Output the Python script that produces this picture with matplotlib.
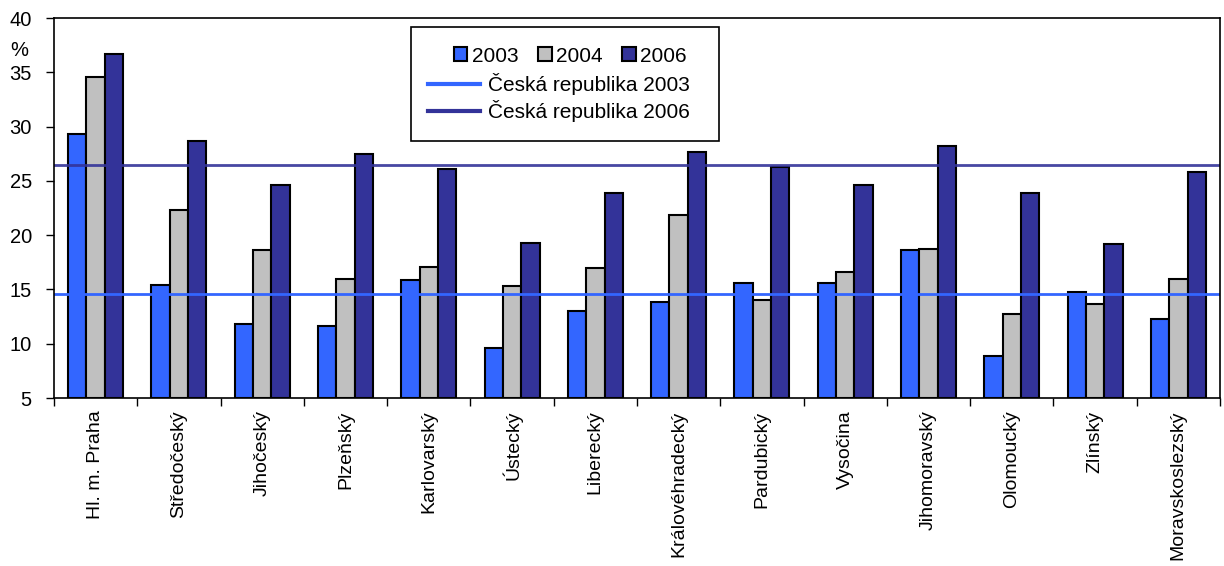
import matplotlib.pyplot as plt
from matplotlib.patches import Rectangle, Patch
from matplotlib.lines import Line2D
import numpy as np

plt.rcParams['font.family'] = ['Liberation Sans', 'DejaVu Sans']

regions = ["Hl. m. Praha", "Středočeský", "Jihočeský", "Plzeňský", "Karlovarský",
           "Ústecký", "Liberecký", "Královéhradecký", "Pardubický", "Vysočina",
           "Jihomoravský", "Olomoucký", "Zlínský", "Moravskoslezský"]
v2003 = [29.3, 15.4, 11.8, 11.6, 15.9, 9.6, 13.0, 13.8, 15.6, 15.6, 18.6, 8.9, 14.8, 12.3]
v2004 = [34.6, 22.3, 18.6, 16.0, 17.1, 15.3, 17.0, 21.9, 14.0, 16.6, 18.7, 12.7, 13.7, 16.0]
v2006 = [36.7, 28.7, 24.6, 27.5, 26.1, 19.3, 23.9, 27.7, 26.3, 24.6, 28.2, 23.9, 19.2, 25.8]
cr2003 = 14.6
cr2006 = 26.5

c03 = '#3366FF'
c04 = '#C0C0C0'
c06 = '#333399'

fig = plt.figure(figsize=(12.24, 5.66), dpi=100)
ax = fig.add_axes([54 / 1224, 1 - 398 / 566, 1166 / 1224, 380 / 566])

x = np.arange(len(regions))
w = 0.22
ax.bar(x - w, np.array(v2003) - 5, w, bottom=5, color=c03, edgecolor='black', linewidth=1.5)
ax.bar(x, np.array(v2004) - 5, w, bottom=5, color=c04, edgecolor='black', linewidth=1.5)
ax.bar(x + w, np.array(v2006) - 5, w, bottom=5, color=c06, edgecolor='black', linewidth=1.5)

ax.axhline(cr2003, color=c03, linewidth=2)
ax.axhline(cr2006, color=c06, linewidth=2, alpha=0.9)

ax.set_xlim(-0.5, len(regions) - 0.5)
ax.set_ylim(5, 40)
ax.set_yticks(range(5, 41, 5))
ax.set_xticks(x)
ax.set_xticklabels(regions, rotation=90, fontsize=14)
ax.set_xticks(np.arange(-0.5, len(regions), 1), minor=True)
ax.tick_params(axis='x', which='major', length=0, pad=9)
ax.tick_params(axis='x', which='minor', length=6, direction='out', width=1)
ax.tick_params(axis='y', labelsize=14.5, length=6, width=1, pad=10)
for s in ax.spines.values():
    s.set_linewidth(1.2)

fig.text(10 / 1224, 1 - 51 / 566, '%', fontsize=14.5, va='center', ha='left')

# legend frame + two borderless legends
ax.add_patch(Rectangle((0.306, 0.676), 0.264, 0.300, transform=ax.transAxes,
                       facecolor='white', edgecolor='black', linewidth=1.2, zorder=5))
bar_handles = [Patch(facecolor=c, edgecolor='black', linewidth=1.5) for c in (c03, c04, c06)]
leg1 = ax.legend(bar_handles, ['2003', '2004', '2006'], ncol=3, frameon=False,
                 loc='center left', bbox_to_anchor=(0.334, 0.900), fontsize=15, borderpad=0,
                 handlelength=0.65, handleheight=0.65, handletextpad=0.2, columnspacing=0.95)
leg1.set_zorder(6)
ax.add_artist(leg1)
line_handles = [Line2D([0], [0], color=c03, linewidth=3), Line2D([0], [0], color=c06, linewidth=3)]
leg2 = ax.legend(line_handles, ['Česká republika 2003', 'Česká republika 2006'], frameon=False,
                 loc='center left', bbox_to_anchor=(0.312, 0.790), fontsize=15, borderpad=0,
                 handlelength=2.5, handletextpad=0.35, labelspacing=0.25)
leg2.set_zorder(6)

fig.savefig('out.png', dpi=100)
